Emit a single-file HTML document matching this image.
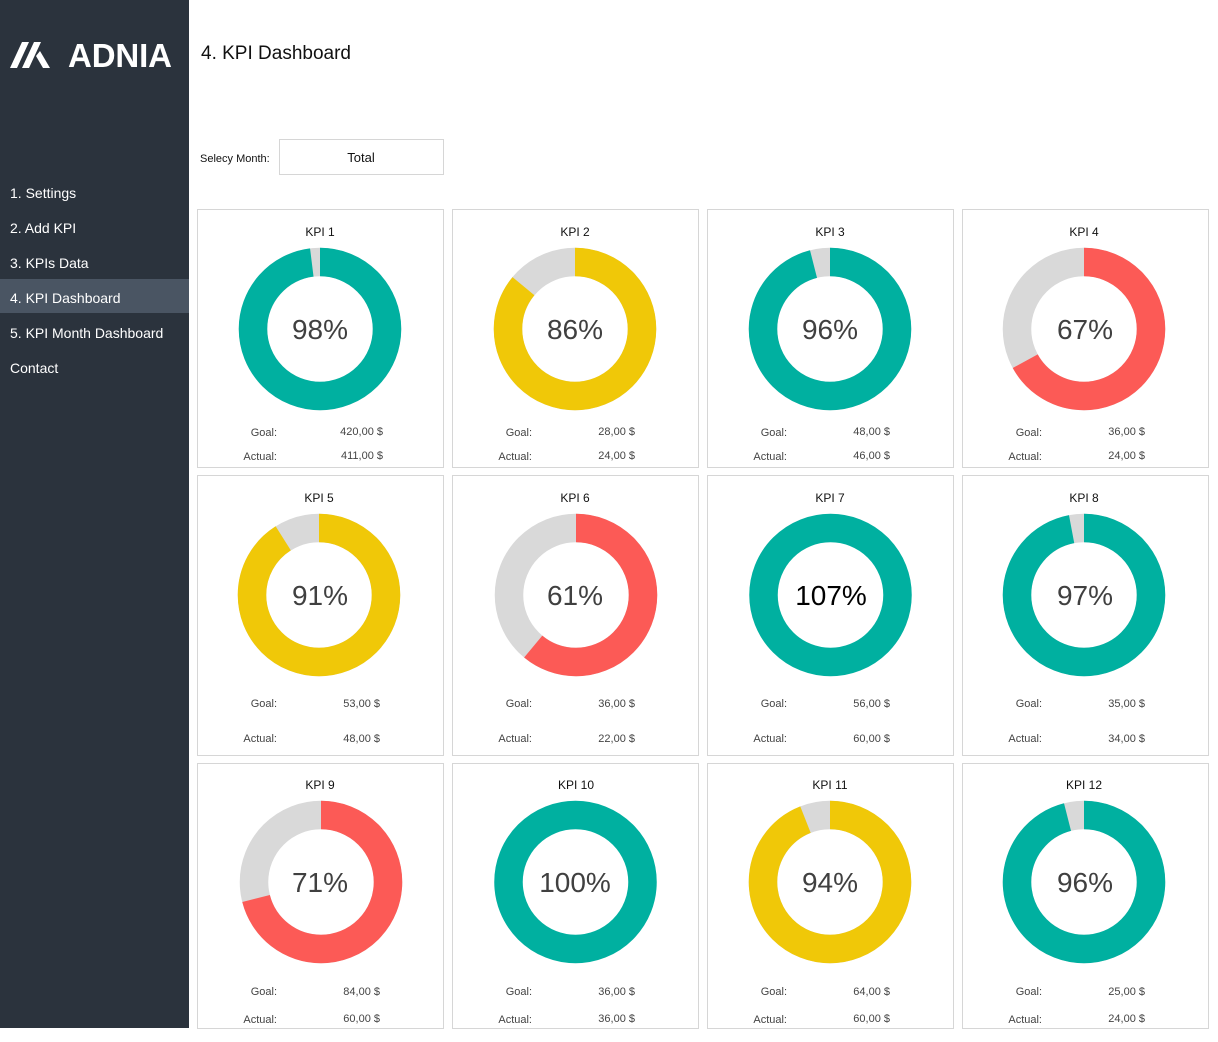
<!DOCTYPE html><html><head><meta charset="utf-8"><style>
body{margin:0;width:1218px;height:1037px;background:#fff;overflow:hidden;font-family:"Liberation Sans",sans-serif}
</style></head><body>
<svg width="1218" height="1037" xmlns="http://www.w3.org/2000/svg" font-family="Liberation Sans, sans-serif">
<rect x="0" y="0" width="189" height="1028" fill="#2b333d"/>
<rect x="0" y="279" width="189" height="34" fill="#4a5563"/>
<g fill="#fff">
<polygon points="10,68 22,42 29,42 17,68"/>
<polygon points="22,68 34,42 41,42 29,68"/>
<polygon points="36,56 43,68 50,68 40,51"/>
</g>
<text x="68" y="67" fill="#fff" font-size="33" font-weight="bold" textLength="104">ADNIA</text>
<g fill="#fff" font-size="14">
<text x="10" y="198">1. Settings</text>
<text x="10" y="233">2. Add KPI</text>
<text x="10" y="268">3. KPIs Data</text>
<text x="10" y="303">4. KPI Dashboard</text>
<text x="10" y="338">5. KPI Month Dashboard</text>
<text x="10" y="373">Contact</text>
</g>
<text x="201" y="59" font-size="19" fill="#111">4. KPI Dashboard</text>
<text x="200" y="162" font-size="11" fill="#111">Selecy Month:</text>
<rect x="279.5" y="139.5" width="164" height="35" fill="#fff" stroke="#d6d6d6"/>
<text x="361" y="162" font-size="13" fill="#111" text-anchor="middle">Total</text>
<g fill="#fff" stroke="#d6d6d6">
<rect x="197.5" y="209.5" width="246" height="258"/><rect x="452.5" y="209.5" width="246" height="258"/><rect x="707.5" y="209.5" width="246" height="258"/><rect x="962.5" y="209.5" width="246" height="258"/>
<rect x="197.5" y="475.5" width="246" height="280"/><rect x="452.5" y="475.5" width="246" height="280"/><rect x="707.5" y="475.5" width="246" height="280"/><rect x="962.5" y="475.5" width="246" height="280"/>
<rect x="197.5" y="763.5" width="246" height="265"/><rect x="452.5" y="763.5" width="246" height="265"/><rect x="707.5" y="763.5" width="246" height="265"/><rect x="962.5" y="763.5" width="246" height="265"/>
</g>
<g fill="none" stroke-width="28.5">
<circle cx="320" cy="329" r="67" stroke="#d9d9d9"/><circle cx="320" cy="329" r="67" stroke="#00b0a0" stroke-dasharray="412.55 500" transform="rotate(-90 320 329)"/>
<circle cx="575" cy="329" r="67" stroke="#d9d9d9"/><circle cx="575" cy="329" r="67" stroke="#f0c808" stroke-dasharray="362.03 500" transform="rotate(-90 575 329)"/>
<circle cx="830" cy="329" r="67" stroke="#d9d9d9"/><circle cx="830" cy="329" r="67" stroke="#00b0a0" stroke-dasharray="404.13 500" transform="rotate(-90 830 329)"/>
<circle cx="1084" cy="329" r="67" stroke="#d9d9d9"/><circle cx="1084" cy="329" r="67" stroke="#fc5a56" stroke-dasharray="282.05 500" transform="rotate(-90 1084 329)"/>
<circle cx="319" cy="595" r="67" stroke="#d9d9d9"/><circle cx="319" cy="595" r="67" stroke="#f0c808" stroke-dasharray="383.08 500" transform="rotate(-90 319 595)"/>
<circle cx="576" cy="595" r="67" stroke="#d9d9d9"/><circle cx="576" cy="595" r="67" stroke="#fc5a56" stroke-dasharray="256.79 500" transform="rotate(-90 576 595)"/>
<circle cx="830.5" cy="595" r="67" stroke="#00b0a0"/>
<circle cx="1084" cy="595" r="67" stroke="#d9d9d9"/><circle cx="1084" cy="595" r="67" stroke="#00b0a0" stroke-dasharray="408.34 500" transform="rotate(-90 1084 595)"/>
<circle cx="321" cy="882" r="67" stroke="#d9d9d9"/><circle cx="321" cy="882" r="67" stroke="#fc5a56" stroke-dasharray="298.89 500" transform="rotate(-90 321 882)"/>
<circle cx="575.5" cy="882" r="67" stroke="#00b0a0"/>
<circle cx="830" cy="882" r="67" stroke="#d9d9d9"/><circle cx="830" cy="882" r="67" stroke="#f0c808" stroke-dasharray="395.71 500" transform="rotate(-90 830 882)"/>
<circle cx="1084" cy="882" r="67" stroke="#d9d9d9"/><circle cx="1084" cy="882" r="67" stroke="#00b0a0" stroke-dasharray="404.13 500" transform="rotate(-90 1084 882)"/>
</g>
<g font-size="28" fill="#404040" text-anchor="middle">
<text x="320" y="339">98%</text><text x="575" y="339">86%</text><text x="830" y="339">96%</text><text x="1085" y="339">67%</text>
<text x="320" y="605">91%</text><text x="575" y="605">61%</text><text x="831" y="605" fill="#000">107%</text><text x="1085" y="605">97%</text>
<text x="320" y="892">71%</text><text x="575" y="892">100%</text><text x="830" y="892">94%</text><text x="1085" y="892">96%</text>
</g>
<g font-size="12" fill="#111" text-anchor="middle">
<text x="320" y="236">KPI 1</text><text x="575" y="236">KPI 2</text><text x="830" y="236">KPI 3</text><text x="1084" y="236">KPI 4</text>
<text x="319" y="502">KPI 5</text><text x="575" y="502">KPI 6</text><text x="830" y="502">KPI 7</text><text x="1084" y="502">KPI 8</text>
<text x="320" y="789">KPI 9</text><text x="576" y="789">KPI 10</text><text x="830" y="789">KPI 11</text><text x="1084" y="789">KPI 12</text>
</g>
<g font-size="11" fill="#444" text-anchor="end">
<text x="277" y="436">Goal:</text><text x="532" y="436">Goal:</text><text x="787" y="436">Goal:</text><text x="1042" y="436">Goal:</text>
<text x="277" y="460">Actual:</text><text x="532" y="460">Actual:</text><text x="787" y="460">Actual:</text><text x="1042" y="460">Actual:</text>
<text x="277" y="707">Goal:</text><text x="532" y="707">Goal:</text><text x="787" y="707">Goal:</text><text x="1042" y="707">Goal:</text>
<text x="277" y="742">Actual:</text><text x="532" y="742">Actual:</text><text x="787" y="742">Actual:</text><text x="1042" y="742">Actual:</text>
<text x="277" y="995">Goal:</text><text x="532" y="995">Goal:</text><text x="787" y="995">Goal:</text><text x="1042" y="995">Goal:</text>
<text x="277" y="1023">Actual:</text><text x="532" y="1023">Actual:</text><text x="787" y="1023">Actual:</text><text x="1042" y="1023">Actual:</text>
<text x="383" y="435">420,00 $</text><text x="635" y="435">28,00 $</text><text x="890" y="435">48,00 $</text><text x="1145" y="435">36,00 $</text>
<text x="383" y="459">411,00 $</text><text x="635" y="459">24,00 $</text><text x="890" y="459">46,00 $</text><text x="1145" y="459">24,00 $</text>
<text x="380" y="707">53,00 $</text><text x="635" y="707">36,00 $</text><text x="890" y="707">56,00 $</text><text x="1145" y="707">35,00 $</text>
<text x="380" y="742">48,00 $</text><text x="635" y="742">22,00 $</text><text x="890" y="742">60,00 $</text><text x="1145" y="742">34,00 $</text>
<text x="380" y="995">84,00 $</text><text x="635" y="995">36,00 $</text><text x="890" y="995">64,00 $</text><text x="1145" y="995">25,00 $</text>
<text x="380" y="1022">60,00 $</text><text x="635" y="1022">36,00 $</text><text x="890" y="1022">60,00 $</text><text x="1145" y="1022">24,00 $</text>
</g>
</svg>
</body></html>
